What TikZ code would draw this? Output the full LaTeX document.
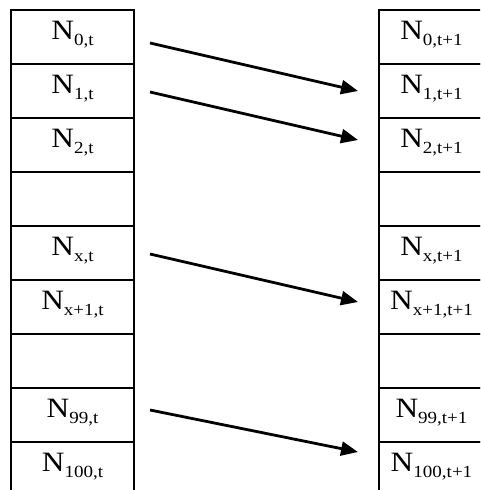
\documentclass[tikz,border=0pt]{standalone}
\usepackage{fontspec}
\setmainfont{Liberation Serif}
\usetikzlibrary{arrows.meta,calc}
\newcommand\sbx[1]{\raisebox{-6pt}{\fontsize{17}{19}\selectfont #1}}
\newcommand\lbl[1]{\scalebox{1.12}[1]{\fontsize{28}{32}\selectfont #1}}
\begin{document}
\begin{tikzpicture}[x=1pt,y=-1pt,
  cell/.style={draw, line width=2.8pt, rectangle, outer sep=0pt, inner sep=0pt,
    minimum height=54pt, text height=20pt, text depth=16pt},
  cellL/.style={cell, minimum width=123pt},
  cellR/.style={cell, minimum width=105pt},
  link/.style={line width=2.8pt, -{Triangle[length=17pt,width=14pt]}}]
\useasboundingbox (0,0) rectangle (480,490);
\clip (0,0) rectangle (480,490);
% left column
\node[cellL] (L0) at (72.5,37)  {\lbl{N\sbx{0,t}}};
\node[cellL] (L1) at (72.5,91)  {\lbl{N\sbx{1,t}}};
\node[cellL] (L2) at (72.5,145) {\lbl{N\sbx{2,t}}};
\node[cellL] (L3) at (72.5,199) {};
\node[cellL] (L4) at (72.5,253) {\lbl{N\sbx{x,t}}};
\node[cellL] (L5) at (72.5,307) {\lbl{N\sbx{x+1,t}}};
\node[cellL] (L6) at (72.5,361) {};
\node[cellL] (L7) at (72.5,415) {\lbl{N\sbx{99,t}}};
\node[cellL] (L8) at (72.5,469) {\lbl{N\sbx{100,t}}};
% right column
\node[cellR] (R0) at (431.5,37)  {\lbl{N\sbx{0,t+1}}};
\node[cellR] (R1) at (431.5,91)  {\lbl{N\sbx{1,t+1}}};
\node[cellR] (R2) at (431.5,145) {\lbl{N\sbx{2,t+1}}};
\node[cellR] (R3) at (431.5,199) {};
\node[cellR] (R4) at (431.5,253) {\lbl{N\sbx{x,t+1}}};
\node[cellR] (R5) at (431.5,307) {\lbl{N\sbx{x+1,t+1}}};
\node[cellR] (R6) at (431.5,361) {};
\node[cellR] (R7) at (431.5,415) {\lbl{N\sbx{99,t+1}}};
\node[cellR] (R8) at (431.5,469) {\lbl{N\sbx{100,t+1}}};
% arrows
\draw[link] ($(L0.east)+(16,6)$)  -- ($(R1.west)+(-21,0)$);
\draw[link] ($(L1.east)+(16,1)$)  -- ($(R2.west)+(-21,-5)$);
\draw[link] ($(L4.east)+(16,1)$)  -- ($(R5.west)+(-21,-5)$);
\draw[link] ($(L7.east)+(16,-5)$) -- ($(R8.west)+(-21,-17)$);
\end{tikzpicture}
\end{document}
